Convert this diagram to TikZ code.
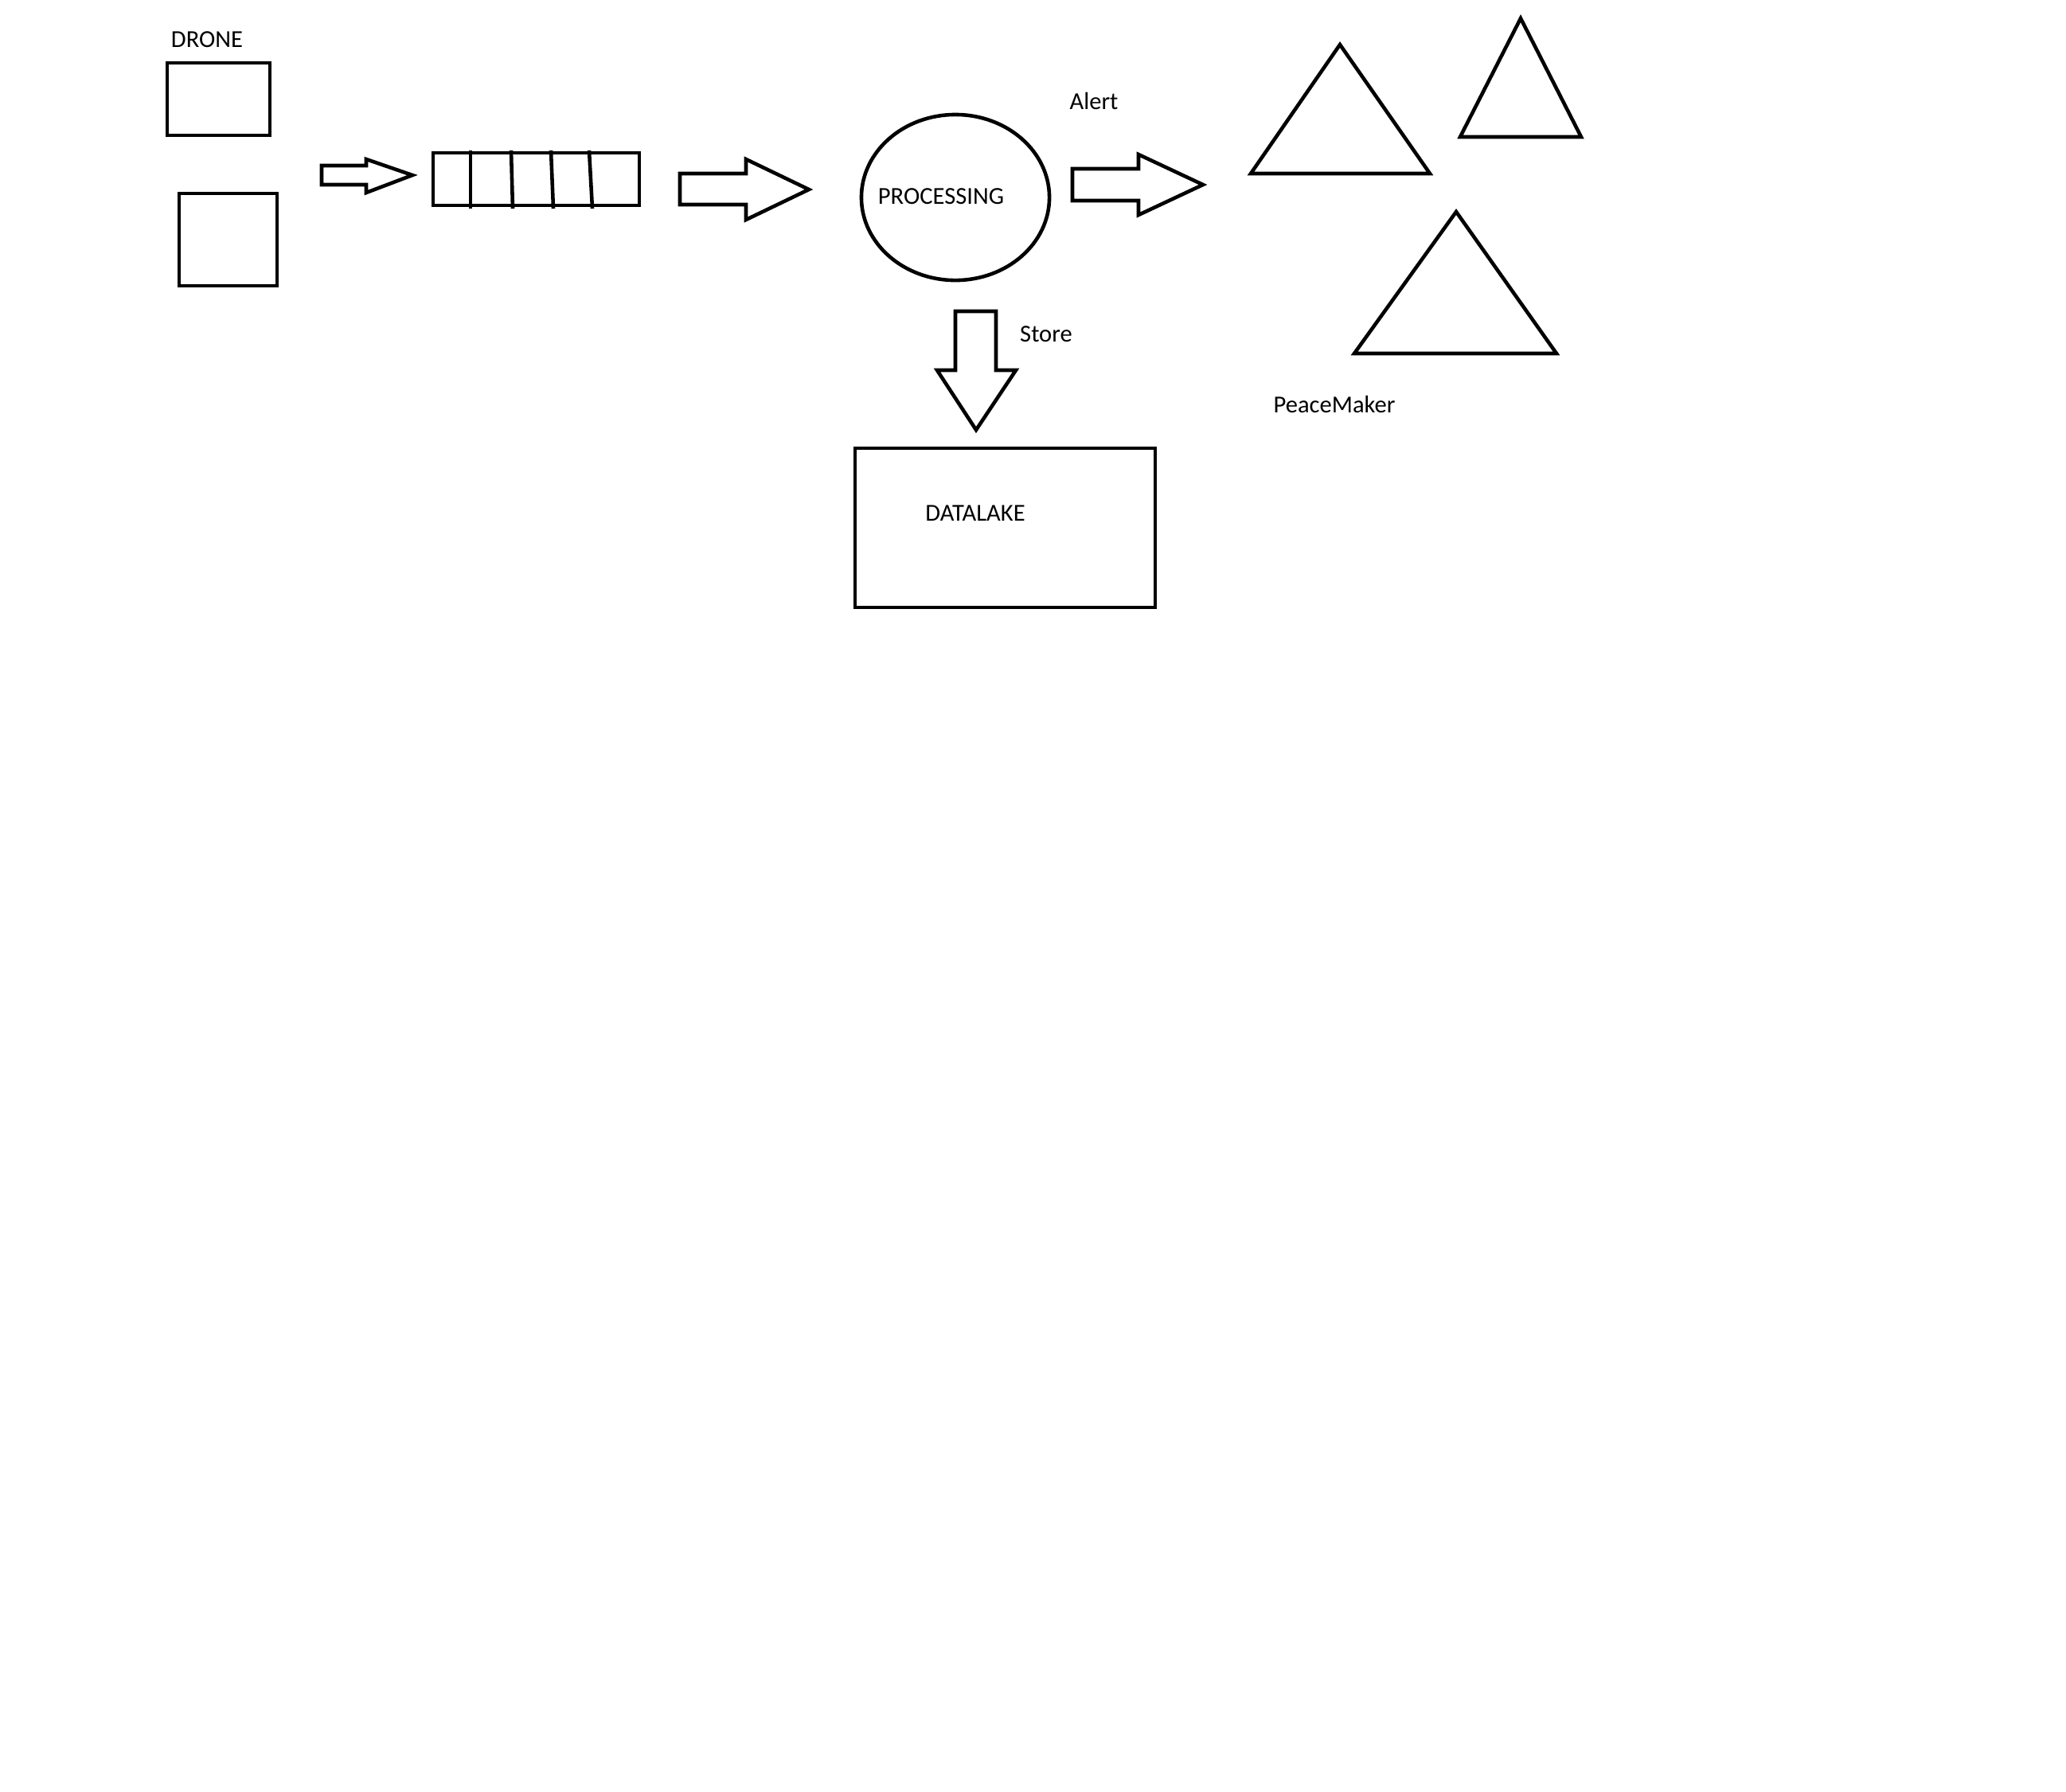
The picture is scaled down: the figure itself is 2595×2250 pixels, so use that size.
\documentclass[tikz,border=0pt]{standalone}
\usepackage{fontspec}
\setmainfont{Carlito}
\usetikzlibrary{shapes.geometric,positioning,calc}
\tikzset{
 sketch/.style={draw=black,line width=1.3pt,line join=miter},
 blk/.style={sketch,rectangle,inner sep=0pt},
 blob/.style={sketch,ellipse,inner sep=0pt},
 lbl/.style={font=\fontsize{8.7}{10}\selectfont,inner sep=0pt}
}
\begin{document}
\begin{tikzpicture}[x=0.01cm,y=-0.01cm]
\useasboundingbox (0,0) rectangle (2595,2250);
% drones
\node[lbl] (drone) at (260,50) {DRONE};
\node[blk,minimum width=1.29cm,minimum height=0.91cm] (drone1) at (274.5,124.5) {};
\node[blk,minimum width=1.23cm,minimum height=1.16cm] (drone2) at (286.5,301) {};
\draw[sketch] (404,208) -- (460,208) -- (460,200) -- (518,220) -- (460,242) -- (460,232) -- (404,232) -- cycle;
% queue
\node[blk,minimum width=2.59cm,minimum height=0.66cm] (queue) at (673.5,225) {};
\foreach \x/\dx in {591/0,642/2,692/3,740/4}
 \draw[sketch] (\x,189) -- (\x+\dx,262);
\draw[sketch] (854,218) -- (937,218) -- (937,200) -- (1016,238) -- (937,276) -- (937,257) -- (854,257) -- cycle;
% processing
\node[blob,minimum width=2.36cm,minimum height=2.08cm] (proc) at (1200,248) {};
\node[lbl] (proclbl) at (1182,247) {PROCESSING};
\node[lbl] (alert) at (1374,127) {Alert};
\draw[sketch] (1347,212) -- (1430,212) -- (1430,194) -- (1511,232) -- (1430,270) -- (1430,252) -- (1347,252) -- cycle;
\node[lbl] (store) at (1314,420) {Store};
\draw[sketch] (1200,391) -- (1251,391) -- (1251,465) -- (1276,465) -- (1226,540) -- (1177,465) -- (1200,465) -- cycle;
% datalake
\node[blk,minimum width=3.77cm,minimum height=2.0cm] (lake) at (1262.5,663) {};
\node[lbl] (lakelbl) at (1225,645) {DATALAKE};
% peacemakers
\foreach \ax/\ay/\bl/\br/\by in {1683/56/1571/1796/218,1910/23/1834/1986/172,1829/266/1701/1955/444}
 \draw[sketch] (\ax,\ay) -- (\br,\by) -- (\bl,\by) -- cycle;
\node[lbl] (peace) at (1676,508) {PeaceMaker};
\end{tikzpicture}
\end{document}
